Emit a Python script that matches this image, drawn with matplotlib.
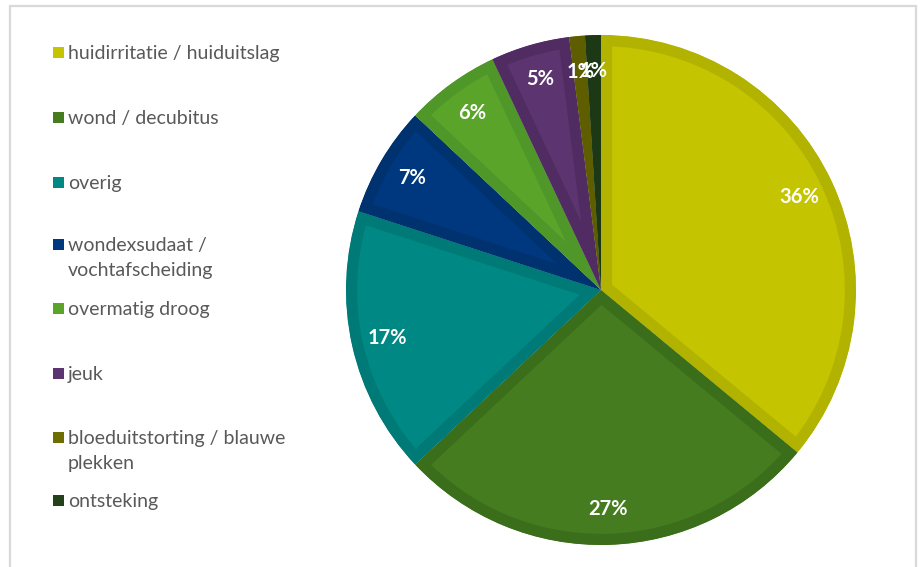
import matplotlib.pyplot as plt
from matplotlib.patches import Rectangle

# categorieën en aandelen (%)
labels = ['huidirritatie / huiduitslag', 'wond / decubitus', 'overig',
          'wondexsudaat /\nvochtafscheiding', 'overmatig droog', 'jeuk',
          'bloeduitstorting / blauwe\nplekken', 'ontsteking']
values = [36, 27, 17, 7, 6, 5, 1, 1]
colors = ['#c4c400', '#447c1f', '#008885', '#00387f', '#5aa42a', '#5c3470', '#6e6e00', '#234219']
edges = ['#b2b200', '#3b6e1a', '#007a77', '#00326f', '#50972a', '#502c62', '#5e5e00', '#1c3814']

W, H = 923, 567
fig = plt.figure(figsize=(W / 100, H / 100), dpi=100)

# rand om de grafiek
fig.patches.append(Rectangle((10 / W, -0.05), 906 / W, (H - 6) / H + 0.05,
                             transform=fig.transFigure, fill=False,
                             edgecolor='#d9d9d9', linewidth=1.6))

cx, cy, r = 601, H - 290, 255
ax = fig.add_axes([(cx - r) / W, (cy - r) / H, 2 * r / W, 2 * r / H])
wedges, texts, autotexts = ax.pie(values, colors=colors, startangle=90, counterclock=False,
                                  autopct='%d%%', pctdistance=0.86, radius=1,
                                  textprops=dict(color='white', fontsize=14.5,
                                                 fontweight='bold', family='Lato'))
# donkere binnenrand per taartpunt
for w, ec in zip(wedges, edges):
    w.set_edgecolor(ec)
    w.set_linewidth(16)
    w.set_clip_path(w)
    w.set_clip_on(True)
ax.set_xlim(-1, 1)
ax.set_ylim(-1, 1)
ax.axis('off')

# legenda
rows = [52, 117, 182, 244, 308, 373, 437, 500]
for lab, col, y in zip(labels, colors, rows):
    fig.patches.append(Rectangle((53 / W, (H - y - 6) / H), 11 / W, 11 / H,
                                 transform=fig.transFigure, facecolor=col, edgecolor='none'))
    fig.text(68 / W, (H - y + 7) / H, lab, ha='left', va='top', fontsize=14,
             family='Lato', color='#595959', linespacing=1.55)

fig.savefig('out.png', dpi=100)
